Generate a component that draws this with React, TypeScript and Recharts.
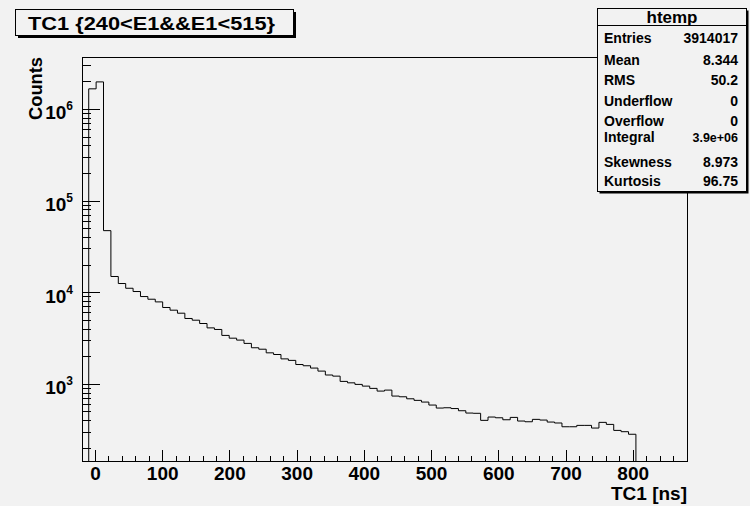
import { ComposedChart, Line, XAxis, YAxis, ReferenceArea } from 'recharts'

// TC1 histogram (bins of ~11 ns starting at -10 ns)
const binStart = -10
const binWidth = 11
const counts = [
  1680000, 2000000, 47500, 15000, 12570, 11160, 10280, 9060, 8470, 7920,
  6880, 6430, 5960, 5220, 5000, 4600, 4120, 3960, 3410, 3180,
  3030, 2790, 2500, 2410, 2200, 2110, 1890, 1820, 1640, 1590,
  1500, 1390, 1260, 1225, 1073, 1035, 995, 953, 900, 841,
  862, 742, 729, 693, 666, 638, 592, 549, 553, 542,
  513, 484, 481, 403, 438, 430, 409, 434, 396, 389,
  413, 406, 386, 377, 343, 343, 355, 355, 332, 383,
  364, 313, 303, 284,
]

const xLabels = [0, 100, 200, 300, 400, 500, 600, 700, 800]
const xDomain: [number, number] = [-20, 880]
const yDomain: [number, number] = [145, 3.74e6]

const statNames = ['Entries', 'Mean', 'RMS', 'Underflow', 'Overflow', 'Integral', 'Skewness', 'Kurtosis']
const statValues = ['3914017', '8.344', '50.2', '0', '0', '3.9e+06', '8.973', '96.75']
const statBaselines = [43, 65, 85, 106, 126, 142, 166.5, 185.5]

const FONT = '"Liberation Sans", Arial, Helvetica, sans-serif'
const BG = '#f2f2f2'

// outline: rise from the floor, steps, drop back to the floor
const lastEdge = binStart + counts.length * binWidth
const data = [
  { x: binStart, c: yDomain[0] },
  ...counts.map((c, i) => ({ x: binStart + i * binWidth, c })),
  { x: lastEdge, c: counts[counts.length - 1] },
  { x: lastEdge, c: yDomain[0] },
]

const xTicks: number[] = []
for (let v = xDomain[0]; v <= xDomain[1]; v += 20) xTicks.push(v)

const yTicks: number[] = []
for (let e = 2; e <= 6; e++) {
  for (let m = 1; m <= 9; m++) {
    const v = m * 10 ** e
    if (v >= yDomain[0] && v <= yDomain[1]) yTicks.push(v)
  }
}

function XTick({ x, y, payload }: any) {
  const v = payload.value
  const major = v % 100 === 0
  return (
    <g>
      <line x1={x} x2={x} y1={y} y2={y - (major ? 11 : 5.5)} stroke="#000" shapeRendering="crispEdges" />
      {major && xLabels.includes(v) && (
        <text x={x} y={y + 19} textAnchor="middle" fontFamily={FONT} fontWeight="bold" fontSize={19} fill="#000">
          {v}
        </text>
      )}
    </g>
  )
}

function YTick({ x, y, payload }: any) {
  const v = payload.value
  const exp = Math.round(Math.log10(v))
  const major = Math.abs(v - 10 ** exp) < 1e-6 * v
  return (
    <g>
      <line x1={x} x2={x + (major ? 18 : 9)} y1={y} y2={y} stroke="#000" shapeRendering="crispEdges" />
      {major && (
        <text x={x - 9} y={y + 10} textAnchor="end" fontFamily={FONT} fontWeight="bold" fontSize={19} fill="#000">
          10
          <tspan dy={-9} fontSize={12}>{exp}</tspan>
        </text>
      )}
    </g>
  )
}

export default function App() {
  return (
    <div style={{ position: 'absolute', left: 0, top: 0, width: 750, height: 506, background: BG }}>
      <ComposedChart
        width={750}
        height={506}
        data={data}
        margin={{ top: 57, right: 63, bottom: 15, left: 42 }}
      >
        <XAxis
          dataKey="x"
          type="number"
          domain={xDomain}
          ticks={xTicks}
          interval={0}
          tickSize={0}
          tickMargin={0}
          height={30}
          allowDataOverflow
          stroke="#000"
          axisLine={{ stroke: '#000', shapeRendering: 'crispEdges' }}
          tick={<XTick />}
        />
        <YAxis
          type="number"
          scale="log"
          domain={yDomain}
          ticks={yTicks}
          interval={0}
          tickSize={0}
          tickMargin={0}
          width={40}
          allowDataOverflow
          stroke="#000"
          axisLine={{ stroke: '#000', shapeRendering: 'crispEdges' }}
          tick={<YTick />}
        />
        <ReferenceArea
          x1={xDomain[0]}
          x2={xDomain[1]}
          y1={yDomain[0]}
          y2={yDomain[1]}
          fill="none"
          stroke="#000"
          strokeWidth={1}
          fillOpacity={0}
          shapeRendering="crispEdges"
          ifOverflow="visible"
        />
        <Line
          dataKey="c"
          type="stepAfter"
          stroke="#000"
          strokeWidth={1}
          dot={false}
          activeDot={false}
          isAnimationActive={false}
        />
      </ComposedChart>

      <svg
        width={750}
        height={506}
        style={{ position: 'absolute', left: 0, top: 0, pointerEvents: 'none' }}
        fontFamily={FONT}
        fontWeight="bold"
      >
        {/* title box */}
        <rect x={18} y={12} width={278} height={26} fill="#000" />
        <rect x={15.5} y={9.5} width={278} height={26} fill={BG} stroke="#000" />
        <text x={28} y={30} fontSize={19} textLength={247} lengthAdjust="spacingAndGlyphs">
          TC1 {'{'}240&lt;E1&amp;&amp;E1&lt;515{'}'}
        </text>

        {/* axis titles */}
        <text x={42} y={120} fontSize={19} transform="rotate(-90 42 120)" textLength={63} lengthAdjust="spacingAndGlyphs">
          Counts
        </text>
        <text x={687} y={499.5} fontSize={18} textAnchor="end" textLength={76} lengthAdjust="spacingAndGlyphs">
          TC1 [ns]
        </text>

        {/* stats box */}
        <rect x={599.5} y={10.5} width={149} height={183} fill="#000" />
        <rect x={597.5} y={8.5} width={149} height={183} fill={BG} stroke="#000" />
        <line x1={597.5} x2={746.5} y1={25.5} y2={25.5} stroke="#000" />
        <text x={672} y={22.5} fontSize={17} textAnchor="middle">htemp</text>
        {statNames.map((n, i) => (
          <g key={n}>
            <text x={604} y={statBaselines[i]} fontSize={14}>{n}</text>
            <text x={738} y={statBaselines[i]} fontSize={n === 'Integral' ? 12.5 : 14} textAnchor="end">
              {statValues[i]}
            </text>
          </g>
        ))}
      </svg>
    </div>
  )
}
